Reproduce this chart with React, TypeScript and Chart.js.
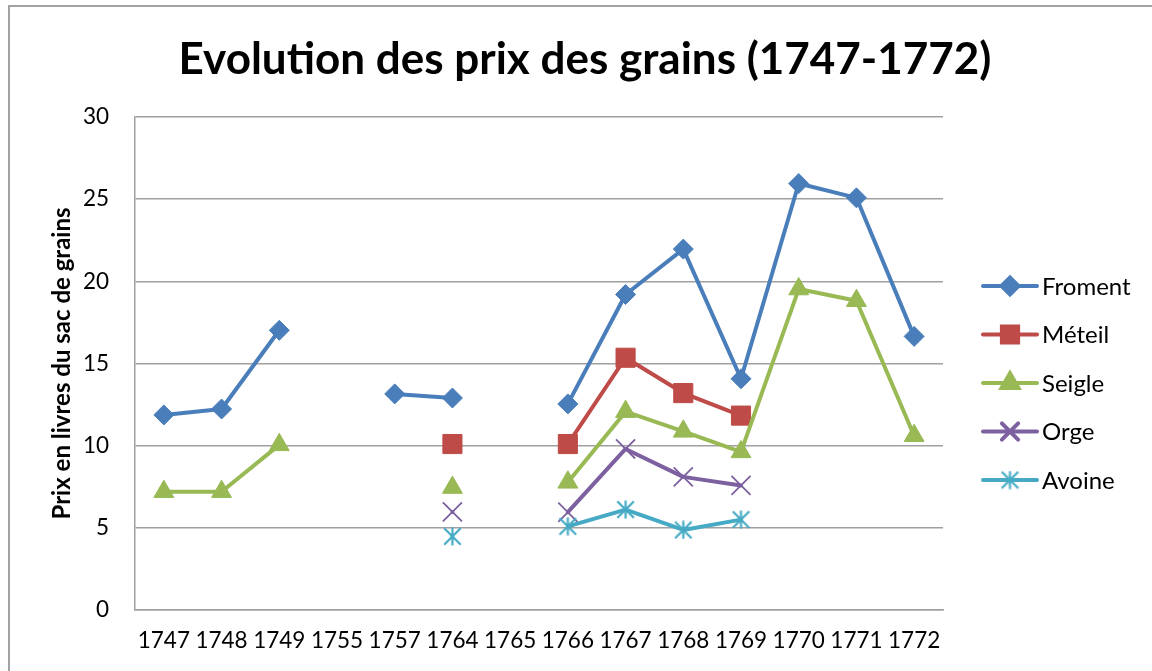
import React, { useEffect, useRef } from "react";
import { Chart, registerables } from "chart.js";
import { drawPoint } from "chart.js/helpers";

Chart.register(...registerables);

const categories = ["1747", "1748", "1749", "1755", "1757", "1764", "1765", "1766", "1767", "1768", "1769", "1770", "1771", "1772"];
const froment = [11.87, 12.23, 17.02, null, 13.15, 12.9, null, 12.54, 19.2, 21.96, 14.07, 25.95, 25.08, 16.65];
const meteil = [null, null, null, null, null, 10.1, null, 10.1, 15.35, 13.2, 11.83, null, null, null];
const seigle = [7.2, 7.2, 10.05, null, null, 7.45, null, 7.77, 12.07, 10.87, 9.62, 19.53, 18.82, 10.6];
const orge = [null, null, null, null, null, 5.97, null, 5.95, 9.8, 8.1, 7.58, null, null, null];
const avoine = [null, null, null, null, null, 4.48, null, 5.09, 6.11, 4.87, 5.5, null, null, null];
const seriesNames = ["Froment", "Méteil", "Seigle", "Orge", "Avoine"];
const yTicks = [0, 5, 10, 15, 20, 25, 30];
const chartTitle = "Evolution des prix des grains (1747-1772)";
const yTitle = "Prix en livres du sac de grains";

const FONT = "Lato, 'Open Sans', sans-serif";

function makeAsterisk(color: string, size: number, lw: number) {
  const c = document.createElement("canvas");
  c.width = size;
  c.height = size;
  const g = c.getContext("2d")!;
  g.strokeStyle = color;
  g.lineWidth = lw;
  g.lineCap = "butt";
  const m = size / 2;
  const r = size / 2 - 0.5;
  const d = r * 0.92;
  g.beginPath();
  g.moveTo(m, m - r);
  g.lineTo(m, m + r);
  g.moveTo(m - d, m - d);
  g.lineTo(m + d, m + d);
  g.moveTo(m + d, m - d);
  g.lineTo(m - d, m + d);
  g.stroke();
  return c;
}

const decorPlugin = {
  id: "decor",
  beforeDraw(chart: any) {
    const ctx = chart.ctx;
    ctx.save();
    ctx.fillStyle = "#ffffff";
    ctx.fillRect(0, 0, chart.width, chart.height);
    ctx.strokeStyle = "#a2a2a6";
    ctx.lineWidth = 2;
    ctx.beginPath();
    ctx.moveTo(9, chart.height);
    ctx.lineTo(9, 6);
    ctx.lineTo(chart.width, 6);
    ctx.stroke();
    ctx.restore();
  },
  afterDraw(chart: any) {
    const ctx = chart.ctx;
    ctx.save();
    ctx.fillStyle = "#000000";
    ctx.font = `bold 44px ${FONT}`;
    ctx.textAlign = "center";
    ctx.textBaseline = "middle";
    ctx.fillText(chartTitle, 585, 60);

    chart.data.datasets.forEach((ds: any, i: number) => {
      const y = 286 + i * 48.5;
      ctx.strokeStyle = ds.borderColor;
      ctx.lineWidth = 4;
      ctx.lineCap = "round";
      ctx.beginPath();
      ctx.moveTo(983, y);
      ctx.lineTo(1037, y);
      ctx.stroke();
      ctx.fillStyle = ds.pointBackgroundColor;
      ctx.strokeStyle = ds.pointBorderColor;
      drawPoint(ctx, {
        pointStyle: ds.pointStyle,
        radius: ds.pointRadius * 0.85,
        rotation: 0,
        borderWidth: ds.pointBorderWidth,
      } as any, 1010, y);
      ctx.fillStyle = "#000000";
      ctx.font = `24px ${FONT}`;
      ctx.textAlign = "left";
      ctx.textBaseline = "middle";
      ctx.fillText(ds.label, 1042, y + 1);
    });
    ctx.restore();
  },
};

export default function App() {
  const ref = useRef<HTMLCanvasElement | null>(null);

  useEffect(() => {
    if (!ref.current) return;
    const avoineMarker = makeAsterisk("#46aac5", 19, 2.2);
    const mk = (label: string, data: any[], color: string, style: any, radius: number, pbw: number, order: number) => ({
      label,
      data,
      borderColor: color,
      backgroundColor: color,
      borderWidth: 4,
      borderJoinStyle: "round",
      borderCapStyle: "round",
      pointStyle: style,
      pointRadius: radius,
      pointHoverRadius: radius,
      pointBackgroundColor: color,
      pointBorderColor: color,
      pointBorderWidth: pbw,
      spanGaps: false,
      tension: 0,
      order,
    });
    const chart = new Chart(ref.current, {
      type: "line",
      data: {
        labels: categories,
        datasets: [
          mk(seriesNames[0], froment, "#4a7ebb", "rectRot", 10, 1, 4),
          mk(seriesNames[1], meteil, "#be4b48", "rect", 13.5, 1, 3),
          mk(seriesNames[2], seigle, "#98b954", "triangle", 11.5, 1, 2),
          mk(seriesNames[3], orge, "#7d60a0", "crossRot", 13.5, 1.8, 1),
          mk(seriesNames[4], avoine, "#46aac5", avoineMarker, 10, 1, 0),
        ] as any,
      },
      options: {
        responsive: false,
        animation: false,
        devicePixelRatio: 1,
        layout: { padding: { top: 117, left: 9, right: 209, bottom: 0 } },
        plugins: {
          legend: { display: false },
          title: { display: false },
          tooltip: { enabled: false },
        },
        scales: {
          x: {
            offset: true,
            grid: { display: false, drawTicks: false },
            border: { display: true, color: "#a0a0a0", width: 1.5 },
            ticks: {
              color: "#000000",
              font: { family: FONT, size: 22.5 },
              padding: 17,
              maxRotation: 0,
              autoSkip: false,
            },
            afterFit: (s: any) => {
              s.height = 61;
            },
          },
          y: {
            min: 0,
            max: 30,
            grid: { color: "#a0a0a0", lineWidth: 1.5, drawTicks: false },
            border: { display: true, color: "#a0a0a0", width: 1.5 },
            ticks: {
              color: "#000000",
              font: { family: FONT, size: 22.5 },
              padding: 26,
            },
            afterBuildTicks: (s: any) => {
              s.ticks = yTicks.map((v) => ({ value: v }));
            },
            title: {
              display: true,
              text: yTitle,
              color: "#000000",
              font: { family: FONT, size: 24, weight: "bold" },
              padding: { top: 38.6, bottom: 0 },
            },
            afterFit: (s: any) => {
              s.width = 126;
            },
          },
        },
      },
      plugins: [decorPlugin],
    });
    return () => chart.destroy();
  }, []);

  return (
    <div style={{ position: "fixed", left: 0, top: 0, width: 1152, height: 671, background: "#fff" }}>
      <canvas ref={ref} width={1152} height={671} style={{ display: "block", width: 1152, height: 671 }} />
    </div>
  );
}
